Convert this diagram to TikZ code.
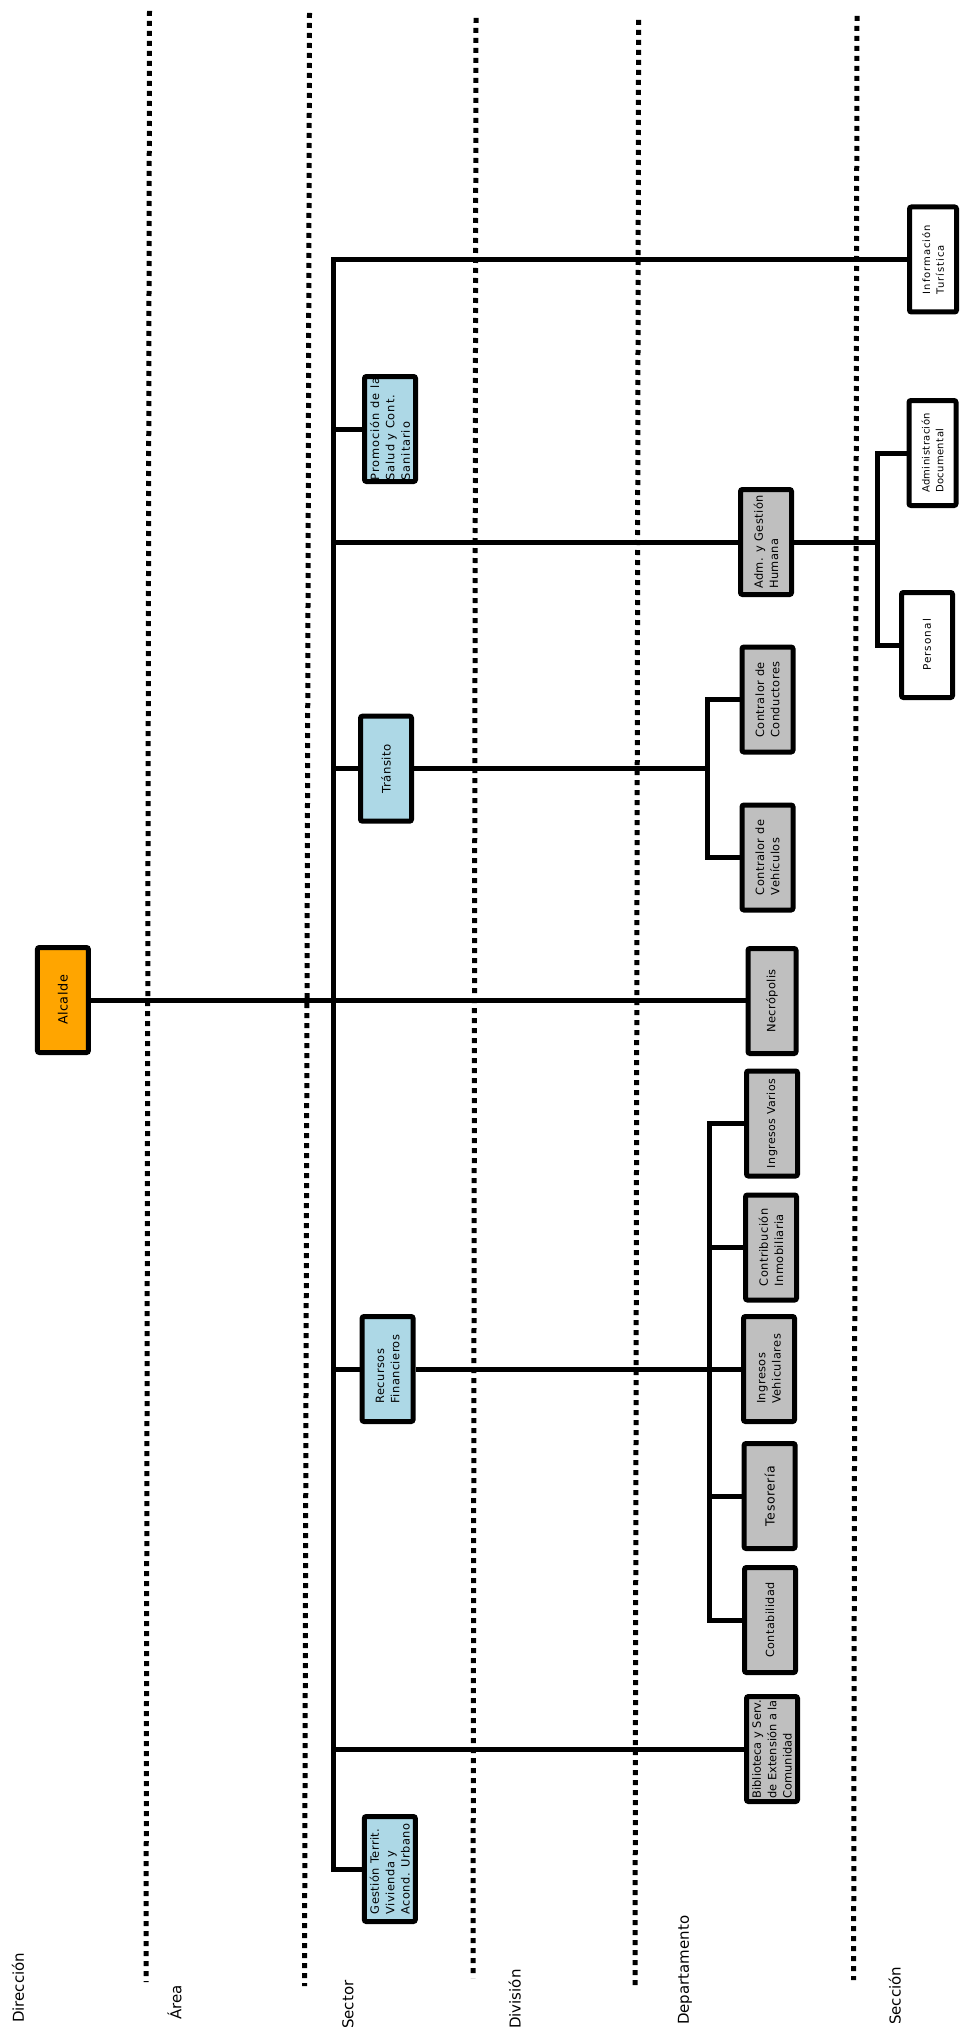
\documentclass[tikz,border=0pt]{standalone}
\usepackage{fontspec}
\setmainfont{DejaVu Sans}
\newfontfamily\bxA{DejaVu Sans}[LetterSpace=4]
\newfontfamily\bxB{DejaVu Sans}[LetterSpace=8]
\newfontfamily\bxC{DejaVu Sans}[LetterSpace=10]
\definecolor{orangeA}{HTML}{FFA500}
\definecolor{blueA}{HTML}{ADD8E6}
\definecolor{grayA}{HTML}{BFBFBF}
\tikzset{
  bx/.style={draw=black, line width=5pt, rounded corners=2pt, rotate=90,
    minimum width=105pt, minimum height=51pt, inner sep=1pt, align=left,
    font=\bxA\fontsize{11.4}{15.3}\selectfont},
  bxo/.style={bx, fill=orangeA, font=\bxA\fontsize{12.8}{15.5}\selectfont},
  bxb/.style={bx, fill=blueA},
  bxg/.style={bx, fill=grayA},
  bxw/.style={bx, fill=white, minimum height=47pt, font=\bxC\fontsize{10}{13.7}\selectfont},
  ln/.style={line width=5pt},
  sepline/.style={line width=5pt, dash pattern=on 5pt off 5pt},
  lab/.style={rotate=90, anchor=west, inner sep=0pt, font=\fontsize{15}{18}\selectfont}
}
\begin{document}
\begin{tikzpicture}[x=1pt,y=-1pt]
\useasboundingbox (0,0) rectangle (961,2033);
% level separators
\draw[sepline] (149.5,11) -- (146,1982);
\draw[sepline] (309.5,13) -- (304.5,1986);
\draw[sepline] (476,18) -- (473,1978);
\draw[sepline] (638.6,20) -- (635,1985);
\draw[sepline] (857,16) -- (853.6,1980);
% level labels
\node[lab] (lDir) at (18,2023) {Dirección};
\node[lab] (lArea) at (174.6,2020) {Área};
\node[lab] (lSec) at (348,2029) {Sector};
\node[lab] (lDiv) at (514.7,2029) {División};
\node[lab] (lDep) at (685,2025) {Departamento};
\node[lab] (lSecc) at (894.6,2025) {Sección};
% coordinates of vertical buses
\coordinate (tr) at (333,0);
\coordinate (b1) at (877.6,0);
\coordinate (b2) at (707.7,0);
\coordinate (b3) at (709,0);
% boxes
\node[bxo] (alc) at (62.9,1000) {Alcalde};
\node[bxb, font=\bxB\fontsize{11.4}{15.3}\selectfont] (prom) at (390,429) {Promoción de la\\Salud y Cont.\\Sanitario};
\node[bxb, font=\bxA\fontsize{11.7}{15}\selectfont] (tran) at (386,768.7) {Tránsito};
\node[bxb] (rf) at (387.6,1369) {Recursos\\Financieros};
\node[bxb] (gt) at (389.8,1869) {Gestión Territ.\\Vivienda y\\Acond. Urbano};
\node[bxg] (adm) at (766,542) {Adm. y Gestión\\Humana};
\node[bxg] (cc) at (767.5,699.5) {Contralor de\\Conductores};
\node[bxg] (cv) at (767.5,857.5) {Contralor de\\Vehículos};
\node[bxg, minimum height=48pt] (nec) at (772,1001) {Necrópolis};
\node[bxg, font=\bxA\fontsize{11}{14.5}\selectfont] (ivar) at (772,1123.5) {Ingresos Varios};
\node[bxg, font=\bxA\fontsize{11.2}{14.5}\selectfont] (cont) at (770,1620) {Contabilidad};
\node[bxg] (cinm) at (771,1247.5) {Contribución\\Inmobiliaria};
\node[bxg] (iveh) at (769,1369) {Ingresos\\Vehiculares};
\node[bxg, font=\bxA\fontsize{12.5}{16}\selectfont] (tes) at (769.6,1496) {Tesorería};
\node[bxg, font=\fontsize{11.4}{15.3}\selectfont] (bib) at (772,1749) {Biblioteca y Serv.\\de Extensión a la\\Comunidad};
\node[bxw] (info) at (933,259.5) {Información\\Turística};
\node[bxw, font=\bxA\fontsize{10}{13.7}\selectfont] (adoc) at (932.5,453) {Administración\\Documental};
\node[bxw, minimum height=51pt, font=\bxC\fontsize{10.5}{13.7}\selectfont] (pers) at (927,645) {Personal};
% trunk
\draw[ln] (info.north) -- (info.north -| tr) -- (gt.north -| tr) -- (gt.north);
\draw[ln] (prom.north) -- (prom.north -| tr);
\draw[ln] (adm.north) -- (adm.north -| tr);
\draw[ln] (tran.north) -- (tran.north -| tr);
\draw[ln] (rf.north) -- (rf.north -| tr);
\draw[ln] (bib.north) -- (bib.north -| tr);
% alcalde
\draw[ln] (alc.south) -- (alc.south -| nec.north);
% Adm y Gestión bracket
\draw[ln] (adm.south) -- (adm.south -| b1);
\draw[ln] (adoc.north) -- (adoc.north -| b1) -- (pers.north -| b1) -- (pers.north);
% Tránsito bracket
\draw[ln] (tran.south) -- (tran.south -| b2);
\draw[ln] (cc.north) -- (cc.north -| b2) -- (cv.north -| b2) -- (cv.north);
% Recursos bracket
\draw[ln] (rf.south) -- (iveh.north);
\draw[ln] (ivar.north) -- (ivar.north -| b3) -- (cont.north -| b3) -- (cont.north);
\draw[ln] (cinm.north) -- (cinm.north -| b3);
\draw[ln] (tes.north) -- (tes.north -| b3);
\end{tikzpicture}
\end{document}
